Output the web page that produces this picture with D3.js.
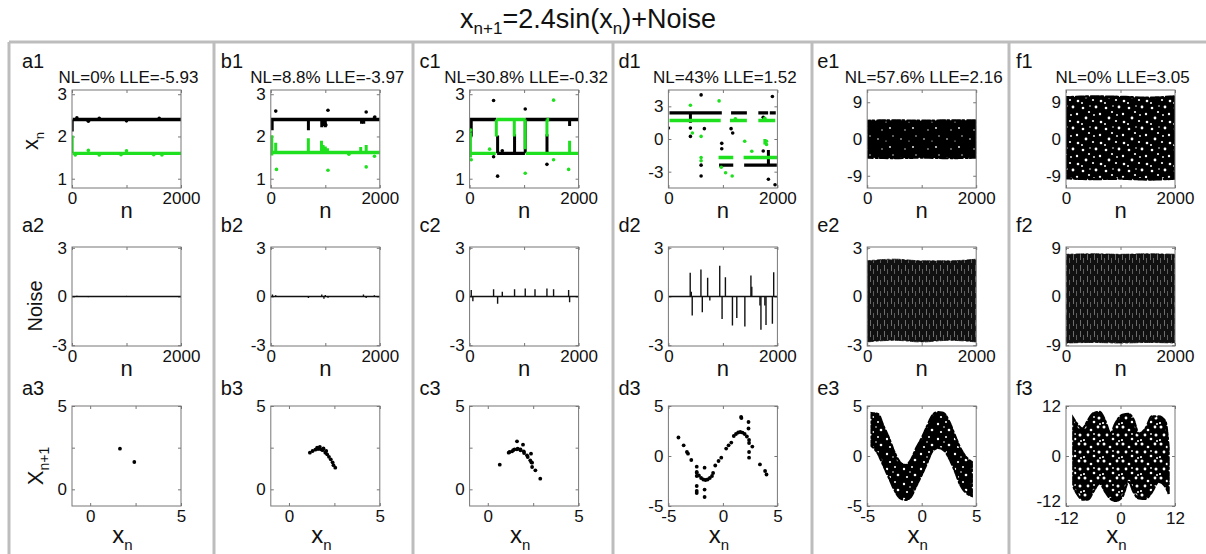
<!DOCTYPE html>
<html><head><meta charset="utf-8">
<script src="https://cdn.jsdelivr.net/npm/d3@7"></script>
<style>
body{margin:0;background:#fff}
text{font-family:Arial,"Liberation Sans",sans-serif;fill:#111}
</style>
</head><body>
<svg id="chart" width="1206" height="554"></svg>
<script>
// ---------- Row 1 : time series x_n (black = even n, green = odd n) ----------
// runs: [nStart, nEnd, value]; jumps: [n, from, to]; points: [n, value]
const a1BlackRuns = [[12, 2000, 2.4]];
const a1BlackJumps = [[4, 2.12, 2.4]];
const a1BlackPts = [[90, 2.44], [300, 2.36], [500, 2.43], [1000, 2.37], [1600, 2.43]];
const a1GreenRuns = [[12, 2000, 1.6]];
const a1GreenJumps = [[4, 1.6, 2.02]];
const a1GreenPts = [[60, 1.56], [300, 1.67], [500, 1.56], [900, 1.57], [1000, 1.66], [1500, 1.57], [1650, 1.56]];

const b1BlackRuns = [[0, 2000, 2.4]];
const b1BlackJumps = [[25, 2.15, 2.4], [690, 2.15, 2.42], [935, 2.22, 2.4], [975, 2.25, 2.4], [1000, 2.22, 2.4], [1665, 2.3, 2.4], [1705, 2.3, 2.4], [1900, 2.4, 2.47]];
const b1BlackPts = [[91, 2.6], [1049, 2.62], [1750, 2.58], [1908, 2.46], [1000, 2.28], [1010, 2.27]];
const b1GreenRuns = [[0, 2000, 1.62]];
const b1GreenJumps = [[18, 1.55, 2.03], [90, 1.62, 1.85], [689, 1.62, 1.96], [930, 1.62, 1.9], [960, 1.62, 1.8], [1000, 1.62, 1.76], [1040, 1.62, 1.72], [1650, 1.62, 1.75], [1750, 1.62, 1.8]];
const b1GreenPts = [[104, 1.22], [1049, 1.2], [1433, 1.58], [1750, 1.28], [1902, 1.53]];

const c1BlackRuns = [[0, 490, 2.4], [505, 1015, 1.6], [1025, 2000, 2.4], [1415, 1455, 1.6]];
const c1BlackJumps = [[30, 2.0, 2.4], [514, 1.6, 2.02], [825, 1.6, 2.05], [1021, 1.6, 2.4], [1420, 1.6, 2.05], [1835, 2.25, 2.4]];
const c1BlackPts = [[440, 2.85], [514, 1.06], [440, 1.52], [1021, 2.65], [1419, 1.34], [600, 1.66]];
const c1GreenRuns = [[0, 480, 1.6], [495, 1020, 2.4], [1030, 2000, 1.6], [1410, 1460, 2.4]];
const c1GreenJumps = [[15, 1.5, 2.1], [490, 2.0, 2.4], [820, 2.0, 2.4], [1020, 1.7, 2.4], [1419, 2.0, 2.4], [1835, 1.6, 1.9]];
const c1GreenPts = [[30, 1.45], [367, 1.7], [1021, 1.13], [1541, 2.86], [1541, 1.45], [1817, 1.22], [20, 2.15]];

const d1BlackRuns = [[20, 980, 2.4], [1150, 1440, 2.4], [1650, 1830, 2.4], [1860, 1970, 2.4], [930, 1190, -2.4], [1390, 1990, -2.4]];
const d1BlackJumps = [[404, 1.5, 2.4], [1835, -2.4, -1.0]];
const d1BlackPts = [[600, 4.05], [600, -2.4], [600, -3.4], [404, 0.24], [404, 1.0], [660, 0.95], [979, -0.9], [979, -0.4], [1150, 0.95], [1180, 0.55], [1835, -3.7], [1908, 3.9], [1957, -4.2], [1740, -1.1], [1740, 2.0], [0, 1.0]];
const d1GreenRuns = [[20, 960, 1.7], [1130, 1440, 1.7], [1650, 1960, 1.7], [920, 1190, -1.7], [1380, 2000, -1.7]];
const d1GreenJumps = [[1770, -0.5, 0.0]];
const d1GreenPts = [[404, 3.1], [440, 0.55], [600, 0.24], [600, -1.7], [600, -2.0], [930, 3.5], [1050, -3.1], [1170, -3.4], [1230, 1.85], [1400, -0.2], [1530, -1.13], [1770, 1.9], [1800, -0.2], [1800, -0.5], [970, -2.6]];

// dense clouds: envelope [n, lower, upper]
const e1Band = [[0, -4.6, 4.5], [500, -4.7, 4.6], [1000, -4.6, 4.5], [1500, -4.7, 4.6], [2000, -4.6, 4.6]];
const f1Band = [[0, -9.6, 10.2], [500, -9.8, 10.4], [1000, -9.7, 10.3], [1500, -9.9, 10.1], [2000, -9.7, 10.4]];

// ---------- Row 2 : noise, spikes [n, value] ----------
const a2Spikes = [[90, 0.04], [300, -0.04], [500, 0.03], [1000, 0.04], [1600, -0.03]];
const b2Spikes = [[30, 0.12], [90, 0.08], [690, -0.1], [935, 0.12], [975, -0.14], [1000, 0.1], [1050, -0.08], [1700, 0.12], [1750, -0.1], [1900, 0.08]];
const c2Spikes = [[30, 0.4], [60, -0.3], [440, 0.45], [514, -0.45], [600, 0.3], [825, 0.45], [1021, 0.5], [1200, 0.45], [1419, 0.5], [1541, 0.45], [1835, -0.35], [1817, 0.4]];
const d2Spikes = [[400, 1.46], [420, 0.3], [437, -1.17], [597, 1.66], [622, -0.97], [720, 1.15], [760, -0.25], [942, 1.9], [985, -1.38], [1046, 1.19], [1175, -1.79], [1255, -1.33], [1403, -1.85], [1514, 1.29], [1530, 0.6], [1680, -0.55], [1698, -2.05], [1770, -0.55], [1791, -1.75], [1908, -1.68], [1932, 1.5]];
const e2Band = [[0, -2.8, 2.2], [500, -2.7, 2.3], [1000, -2.8, 2.2], [1500, -2.7, 2.2], [2000, -2.8, 2.3]];
const f2Band = [[0, -8.6, 7.8], [500, -8.5, 7.9], [1000, -8.6, 7.8], [1500, -8.5, 7.9], [2000, -8.6, 7.8]];

// ---------- Row 3 : return maps [x_n, x_n+1] ----------
const a3Pts = [[1.64, 2.44], [2.43, 1.64]];
const b3Pts = [[1.15, 2.2], [1.3, 2.3], [1.45, 2.38], [1.55, 2.5], [1.6, 2.42], [1.7, 2.55], [1.75, 2.4], [1.85, 2.35], [1.9, 2.45], [2.0, 2.2], [2.05, 2.3], [2.1, 2.1], [2.2, 1.95], [2.3, 1.8], [2.4, 1.62], [2.45, 1.45], [2.55, 1.3]];
const c3Pts = [[0.66, 1.48], [1.15, 2.2], [1.2, 2.24], [1.34, 2.28], [1.4, 2.35], [1.47, 2.4], [1.61, 2.88], [1.6, 2.4], [1.65, 2.44], [1.8, 2.4], [1.8, 2.34], [1.94, 2.68], [1.98, 2.28], [2.0, 2.18], [2.16, 2.04], [2.2, 1.94], [2.34, 1.74], [2.38, 2.14], [2.4, 1.62], [2.44, 1.6], [2.44, 1.34], [2.62, 1.14], [2.89, 0.64]];
const d3Pts = [[-4.08, 1.85], [-3.6, 1.07], [-3.3, 0.4], [-3.2, 0.23], [-2.9, -0.4], [-2.4, -1.07], [-2.4, -1.68], [-2.4, -2.0], [-2.4, -3.0], [-2.4, -3.5], [-2.4, -3.7], [-1.68, -1.17], [-1.68, -3.36], [-1.68, -4.1],
  [-2.4, -1.6], [-2.2, -1.95], [-2.0, -2.2], [-1.8, -2.35], [-1.6, -2.4], [-1.4, -2.35], [-1.2, -2.2], [-1.0, -2.0], [-0.9, -1.7],
  [-0.7, -0.95], [-0.4, -0.5], [-0.15, -0.17], [0.3, 0.74], [0.52, 1.07], [0.77, 1.34],
  [1.0, 2.0], [1.2, 2.2], [1.4, 2.35], [1.6, 2.4], [1.8, 2.34], [2.0, 2.2], [2.2, 1.95], [2.4, 1.6], [2.4, 1.3],
  [1.67, 3.9], [1.7, 3.8], [2.35, 3.4], [2.35, 2.75], [2.4, 0.4], [2.4, -0.17], [2.7, 0.94], [3.4, -0.84], [3.87, -1.5], [4.0, -1.85]];
// e3 / f3 clouds: envelope [x, lower, upper]
const e3Band = [[-4.6, 1.0, 4.3], [-4.0, 0.2, 4.2], [-3.5, -1.0, 3.0], [-3.0, -2.2, 1.8], [-2.5, -3.4, 0.4], [-2.0, -4.2, -0.6], [-1.5, -4.4, -0.9], [-1.0, -4.1, -0.4], [-0.5, -3.0, 0.8], [0, -1.9, 1.8], [0.5, -0.7, 3.0], [1.0, 0.5, 4.1], [1.5, 0.8, 4.4], [2.0, 0.6, 4.3], [2.5, -0.2, 3.5], [3.0, -1.4, 2.2], [3.5, -2.8, 0.9], [4.0, -3.6, 0.0], [4.6, -4.0, -0.6]];
const f3Band = [[-10.4, -7.4, 9.1], [-9.3, -9.5, 7.4], [-8.4, -10.5, 6.6], [-7.1, -10.4, 8.7], [-6.0, -8.6, 10.3], [-4.6, -6.6, 10.6], [-3.3, -8.7, 8.3], [-2.2, -10.3, 5.4], [-1.1, -10.8, 7.9], [0.4, -9.8, 9.9], [1.8, -6.2, 10.1], [2.9, -8.7, 8.7], [4.0, -10.2, 5.4], [5.5, -10.3, 6.6], [6.9, -8.7, 9.5], [8.4, -6.2, 9.5], [9.9, -7.4, 8.3], [10.6, -9.1, 2.1]];

// ---------- text ----------
const colIds = ["a", "b", "c", "d", "e", "f"];
const headers = ["NL=0% LLE=-5.93", "NL=8.8% LLE=-3.97", "NL=30.8% LLE=-0.32", "NL=43% LLE=1.52", "NL=57.6% LLE=2.16", "NL=0% LLE=3.05"];

const svg = d3.select("#chart");
const GREEN = "#1fe01f";
const FONT = "Arial, 'Liberation Sans', sans-serif";

// pattern fills for dense clouds (irregular holes inside one tile)
const defs = svg.append("defs");
function speckle(id, w, h, holes) {
  const p = defs.append("pattern").attr("id", id).attr("patternUnits", "userSpaceOnUse").attr("width", w).attr("height", h);
  p.append("rect").attr("width", w).attr("height", h).attr("fill", "#000");
  holes.forEach(c => p.append("circle").attr("cx", c[0]).attr("cy", c[1]).attr("r", c[2]).attr("fill", "#fff"));
}
speckle("spE", 23, 19, [[4, 6, 0.8], [16, 14, 0.9], [19, 3, 0.7], [8, 16, 0.7], [12, 8, 0.6]]);
speckle("spE3", 17, 15, [[3, 4, 1.2], [11, 2, 1.0], [14, 10, 1.3], [6, 12, 1.1], [9, 7, 0.8]]);
speckle("spF", 23, 21, [[2, 3, 1.3], [8, 7, 1.1], [15, 2, 1.4], [19, 9, 1.2], [5, 13, 1.4], [12, 16, 1.1], [1, 19, 1.0], [13, 10, 0.9], [20, 17, 1.3], [9, 1, 0.8]]);
speckle("spF3", 19, 17, [[2, 2, 1.5], [8, 5, 1.3], [15, 2, 1.4], [16, 10, 1.5], [5, 10, 1.4], [11, 14, 1.3], [1, 15, 1.1], [11, 9, 0.9], [17, 16, 1.0]]);
const st = defs.append("pattern").attr("id", "stripes").attr("patternUnits", "userSpaceOnUse").attr("width", 7).attr("height", 11);
st.append("rect").attr("width", 7).attr("height", 11).attr("fill", "#111");
st.append("rect").attr("x", 2).attr("y", 1).attr("width", 0.9).attr("height", 6).attr("fill", "#777");
st.append("rect").attr("x", 5).attr("y", 5).attr("width", 0.9).attr("height", 5).attr("fill", "#666");

// title
const title = svg.append("text").attr("x", 588).attr("y", 28).attr("text-anchor", "middle").style("font-size", "27px");
title.append("tspan").text("x");
title.append("tspan").attr("dy", 6).style("font-size", "17px").text("n+1");
title.append("tspan").attr("dy", -6).text("=2.4sin(x");
title.append("tspan").attr("dy", 6).style("font-size", "17px").text("n");
title.append("tspan").attr("dy", -6).text(")+Noise");

// panel separators
const sepX = [9, 214, 413, 613, 812, 1009];
svg.append("line").attr("x1", 9).attr("x2", 1206).attr("y1", 42).attr("y2", 42).attr("stroke", "#bdbdbd").attr("stroke-width", 3);
sepX.forEach(x => svg.append("line").attr("x1", x).attr("x2", x).attr("y1", 42).attr("y2", 554).attr("stroke", "#bdbdbd").attr("stroke-width", 3));

const colLeft = i => 72 + i * 198.8;
const W = 109;
const rowBox = [[90, 188], [247, 346], [406, 506]];

function panel(i, row, xDom, yDom, xTicks, xLabels, yTicks, yLabels) {
  const left = colLeft(i), [top, bottom] = rowBox[row];
  const x = d3.scaleLinear().domain(xDom).range([left, left + W]);
  const y = d3.scaleLinear().domain(yDom).range([bottom, top]);
  const g = svg.append("g");
  const fmt = d => xLabels.includes(d) ? d : "";
  const fmtY = d => yLabels.includes(d) ? d : "";
  g.append("g").attr("class", "xb").attr("transform", `translate(0,${bottom})`)
    .call(d3.axisBottom(x).tickValues(xTicks).tickFormat(fmt).tickSize(-3).tickSizeOuter(0).tickPadding(4));
  g.append("g").attr("transform", `translate(0,${top})`)
    .call(d3.axisTop(x).tickValues(xTicks).tickFormat("").tickSize(-3).tickSizeOuter(0));
  g.append("g").attr("class", "yl").attr("transform", `translate(${left},0)`)
    .call(d3.axisLeft(y).tickValues(yTicks).tickFormat(fmtY).tickSize(-3).tickSizeOuter(0).tickPadding(5));
  g.append("g").attr("transform", `translate(${left + W},0)`)
    .call(d3.axisRight(y).tickValues(yTicks).tickFormat("").tickSize(-3).tickSizeOuter(0));
  g.selectAll(".domain").remove();
  g.selectAll(".tick line").attr("stroke", "#777");
  g.selectAll(".tick text").style("font-size", "17px").style("font-family", FONT).attr("fill", "#111");
  const plot = svg.append("g");
  const clipId = `clip${i}${row}`;
  defs.append("clipPath").attr("id", clipId).append("rect").attr("x", left).attr("y", top).attr("width", W).attr("height", bottom - top);
  plot.attr("clip-path", `url(#${clipId})`);
  svg.append("rect").attr("x", left).attr("y", top).attr("width", W).attr("height", bottom - top).attr("fill", "none").attr("stroke", "#777").attr("stroke-width", 1);
  return { x, y, plot, g, left, top, bottom };
}

function series(p, runs, jumps, pts, color) {
  p.plot.selectAll(null).data(runs).join("line")
    .attr("x1", d => p.x(d[0])).attr("x2", d => p.x(d[1])).attr("y1", d => p.y(d[2])).attr("y2", d => p.y(d[2]))
    .attr("stroke", color).attr("stroke-width", 3.4);
  p.plot.selectAll(null).data(jumps).join("line")
    .attr("x1", d => p.x(d[0])).attr("x2", d => p.x(d[0])).attr("y1", d => p.y(d[1])).attr("y2", d => p.y(d[2]))
    .attr("stroke", color).attr("stroke-width", 3);
  p.plot.selectAll(null).data(pts).join("circle")
    .attr("cx", d => p.x(d[0])).attr("cy", d => p.y(d[1])).attr("r", 1.8).attr("fill", color);
}
function spikes(p, data) {
  p.plot.append("line").attr("x1", p.x(0)).attr("x2", p.x(2000)).attr("y1", p.y(0)).attr("y2", p.y(0)).attr("stroke", "#111").attr("stroke-width", 1.3);
  p.plot.selectAll(null).data(data).join("line")
    .attr("x1", d => p.x(d[0])).attr("x2", d => p.x(d[0])).attr("y1", p.y(0)).attr("y2", d => p.y(d[1]))
    .attr("stroke", "#111").attr("stroke-width", 1.4);
}
function band(p, data, fill, edge) {
  const area = d3.area().x(d => p.x(d[0])).y0(d => p.y(d[1])).y1(d => p.y(d[2])).curve(d3.curveMonotoneX);
  p.plot.append("path").datum(data).attr("d", area).attr("fill", fill)
    .attr("stroke", "#000").attr("stroke-width", edge).attr("stroke-dasharray", "3 2 2 3 4 1")
    .attr("stroke-linecap", "round");
}
function dots(p, data) {
  p.plot.selectAll(null).data(data).join("circle")
    .attr("cx", d => p.x(d[0])).attr("cy", d => p.y(d[1])).attr("r", 1.9).attr("fill", "#000");
}

const nT = [0, 1000, 2000], nL = [0, 2000];

// row 1
const r1 = [
  panel(0, 0, [0, 2000], [0.78, 3.1], nT, nL, [1, 2, 3], [1, 2, 3]),
  panel(1, 0, [0, 2000], [0.78, 3.1], nT, nL, [1, 2, 3], [1, 2, 3]),
  panel(2, 0, [0, 2000], [0.78, 3.1], nT, nL, [1, 2, 3], [1, 2, 3]),
  panel(3, 0, [0, 2000], [-4.5, 4.5], nT, nL, [-3, 0, 3], [-3, 0, 3]),
  panel(4, 0, [0, 2000], [-12, 12], nT, nL, [-9, 0, 9], [-9, 0, 9]),
  panel(5, 0, [0, 2000], [-12, 12], nT, nL, [-9, 0, 9], [-9, 0, 9])
];
series(r1[0], a1BlackRuns, a1BlackJumps, a1BlackPts, "#000");
series(r1[0], a1GreenRuns, a1GreenJumps, a1GreenPts, GREEN);
series(r1[1], b1BlackRuns, b1BlackJumps, b1BlackPts, "#000");
series(r1[1], b1GreenRuns, b1GreenJumps, b1GreenPts, GREEN);
series(r1[2], c1BlackRuns, c1BlackJumps, c1BlackPts, "#000");
series(r1[2], c1GreenRuns, c1GreenJumps, c1GreenPts, GREEN);
series(r1[3], d1BlackRuns, d1BlackJumps, d1BlackPts, "#000");
series(r1[3], d1GreenRuns, d1GreenJumps, d1GreenPts, GREEN);
band(r1[4], e1Band, "url(#spE)", 2);
band(r1[5], f1Band, "url(#spF)", 2.5);

// row 2
const r2 = [
  panel(0, 1, [0, 2000], [-3.05, 3.05], nT, nL, [-3, 0, 3], [-3, 0, 3]),
  panel(1, 1, [0, 2000], [-3.05, 3.05], nT, nL, [-3, 0, 3], [-3, 0, 3]),
  panel(2, 1, [0, 2000], [-3.05, 3.05], nT, nL, [-3, 0, 3], [-3, 0, 3]),
  panel(3, 1, [0, 2000], [-3.05, 3.05], nT, nL, [-3, 0, 3], [-3, 0, 3]),
  panel(4, 1, [0, 2000], [-3.05, 3.05], nT, nL, [-3, 0, 3], [-3, 0, 3]),
  panel(5, 1, [0, 2000], [-9.15, 9.15], nT, nL, [-9, 0, 9], [-9, 0, 9])
];
spikes(r2[0], a2Spikes);
spikes(r2[1], b2Spikes);
spikes(r2[2], c2Spikes);
spikes(r2[3], d2Spikes);
band(r2[4], e2Band, "url(#stripes)", 0.8);
band(r2[5], f2Band, "url(#stripes)", 0.8);

// row 3
const r3 = [
  panel(0, 2, [-1, 5], [-1, 5], [0, 2.5, 5], [0, 5], [0, 2.5, 5], [0, 5]),
  panel(1, 2, [-1, 5], [-1, 5], [0, 2.5, 5], [0, 5], [0, 2.5, 5], [0, 5]),
  panel(2, 2, [-1, 5], [-1, 5], [0, 2.5, 5], [0, 5], [0, 2.5, 5], [0, 5]),
  panel(3, 2, [-5, 5], [-5, 5], [-5, 0, 5], [-5, 0, 5], [-5, 0, 5], [-5, 0, 5]),
  panel(4, 2, [-5, 5], [-5, 5], [-5, 0, 5], [-5, 0, 5], [-5, 0, 5], [-5, 0, 5]),
  panel(5, 2, [-12, 12], [-12, 12], [-12, 0, 12], [-12, 0, 12], [-12, 0, 12], [-12, 0, 12])
];
dots(r3[0], a3Pts);
dots(r3[1], b3Pts);
dots(r3[2], c3Pts);
dots(r3[3], d3Pts);
band(r3[4], e3Band, "url(#spE3)", 2.2);
band(r3[5], f3Band, "url(#spF3)", 2.2);
// in f3 the lowest y label sits just above the x labels
r3[5].g.selectAll(".yl .tick text").filter(d => d === -12).attr("dy", "0.05em");
r3[5].g.selectAll(".xb .tick text").attr("dy", "0.85em");

// panel labels, headers, axis titles
colIds.forEach((c, i) => {
  const cx = colLeft(i) + W / 2;
  svg.append("text").attr("x", colLeft(i) - 50).attr("y", 68).style("font-size", "20px").text(c + "1");
  svg.append("text").attr("x", cx + 2).attr("y", 83).attr("text-anchor", "middle").style("font-size", "17px").text(headers[i]);
  svg.append("text").attr("x", colLeft(i) - 50).attr("y", 232).style("font-size", "20px").text(c + "2");
  svg.append("text").attr("x", colLeft(i) - 50).attr("y", 395).style("font-size", "20px").text(c + "3");
  svg.append("text").attr("x", cx).attr("y", 218).attr("text-anchor", "middle").style("font-size", "22px").text("n");
  svg.append("text").attr("x", cx).attr("y", 376).attr("text-anchor", "middle").style("font-size", "22px").text("n");
  const xl = svg.append("text").attr("x", cx - 4).attr("y", 543).attr("text-anchor", "middle").style("font-size", "24px");
  xl.append("tspan").text("x");
  xl.append("tspan").attr("dy", 7).style("font-size", "15px").text("n");
});
// y axis titles (first column)
const yl1 = svg.append("text").attr("transform", "translate(38,141) rotate(-90)").attr("text-anchor", "middle").style("font-size", "22px");
yl1.append("tspan").text("x");
yl1.append("tspan").attr("dy", 6).style("font-size", "13px").text("n");
svg.append("text").attr("transform", "translate(42,306) rotate(-90)").attr("text-anchor", "middle").style("font-size", "20px").text("Noise");
const yl3 = svg.append("text").attr("transform", "translate(43,466) rotate(-90)").attr("text-anchor", "middle").style("font-size", "22px");
yl3.append("tspan").text("X");
yl3.append("tspan").attr("dy", 6).style("font-size", "14px").text("n+1");
</script>
</body></html>
